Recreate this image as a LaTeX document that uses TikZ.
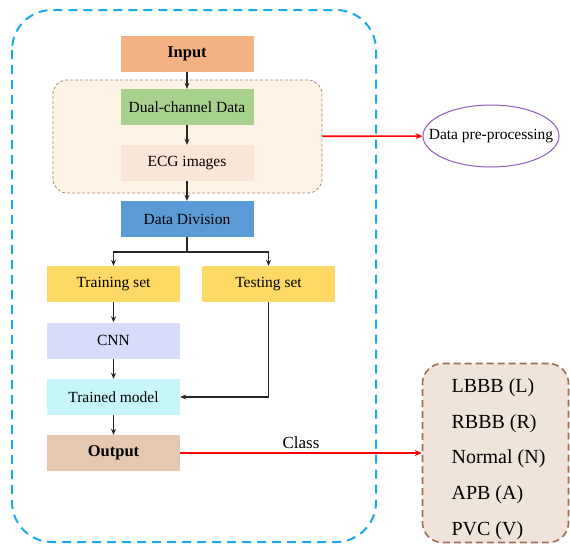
\documentclass[tikz,border=0pt]{standalone}
\usepackage{fontspec}
\setmainfont{Liberation Serif}
\usetikzlibrary{arrows.meta}
\usetikzlibrary{shapes.geometric}
\definecolor{inpcol}{HTML}{F4B183}
\definecolor{dualcol}{HTML}{A9D18E}
\definecolor{ecgcol}{HTML}{FBE5D6}
\definecolor{divcol}{HTML}{5B9BD5}
\definecolor{setcol}{HTML}{FFD966}
\definecolor{cnncol}{HTML}{D7DCFA}
\definecolor{modelcol}{HTML}{C6F6FA}
\definecolor{outcol}{HTML}{E6C8B0}
\definecolor{outer}{HTML}{1BAAE6}
\definecolor{prefill}{HTML}{FDF4E6}
\definecolor{preline}{HTML}{A8897A}
\definecolor{clsfill}{HTML}{EFE4D9}
\definecolor{clsline}{HTML}{A06E58}
\definecolor{elcol}{HTML}{8E5BB8}
\tikzset{
    blk/.style={minimum width=133pt,minimum height=36pt,inner sep=0pt,
        font=\fontsize{15.5}{18}\selectfont},
    arr/.style={-{Stealth[length=6pt,width=5pt]},line width=1.1pt,black!85},
    redarr/.style={-{Stealth[length=7pt,width=6pt]},line width=1.6pt,red}
}

\begin{document}
\begin{tikzpicture}[x=1pt,y=-1pt]
    \useasboundingbox (0,0) rectangle (570,544);
    \draw[outer,line width=2pt,dash pattern=on 9pt off 6pt,rounded corners=40pt]
    (12,10) rectangle (376,542);

    \node[draw=preline,fill=prefill,dash pattern=on 3pt off 2pt,line width=0.8pt,
        rounded corners=14pt,minimum width=269pt,minimum height=113pt] (pre) at (187.5,136.5) {};

    \node[blk,fill=inpcol,font=\fontsize{16.5}{18}\selectfont\bfseries] (inp) at (187,53.5) {Input};
    \node[blk,fill=dualcol] (dual) at (187,107) {Dual-channel Data};
    \node[blk,fill=ecgcol] (ecg) at (187,163) {ECG images};
    \node[blk,fill=divcol] (div) at (187,219) {Data Division};
    \node[blk,fill=setcol] (train) at (113.5,284) {Training set};
    \node[blk,fill=setcol] (test) at (268.5,284) {Testing set};
    \node[blk,fill=cnncol] (cnn) at (113.5,340.5) {CNN};
    \node[blk,fill=modelcol] (model) at (113.5,397) {Trained model};
    \node[blk,fill=outcol,font=\fontsize{16.5}{18}\selectfont\bfseries] (out) at (113.5,453) {Output};

    \node[ellipse,draw=elcol,line width=1pt,minimum width=136pt,minimum height=62pt,
        label={[font=\fontsize{15.5}{18}\selectfont]center:Data pre-processing}] (proc) at (491,136) {};
    \node[draw=clsline,fill=clsfill,line width=1.6pt,dash pattern=on 7pt off 4pt,
        rounded corners=20pt,minimum width=146pt,minimum height=179pt] (cls) at (495.5,453) {};
    \node[align=left,font=\fontsize{20}{35.8}\selectfont] (clstxt) at ([xshift=3pt,yshift=-6pt]cls.center)
    {LBBB (L)\\RBBB (R)\\Normal (N)\\APB (A)\\PVC (V)};

    \coordinate (split) at (187,252);
    \draw[arr] (inp) -- (dual);
    \draw[arr] (dual) -- (ecg);
    \draw[arr] (ecg) -- (div);
    \draw[line width=1.1pt,black!85] (div) -- (split);
    \draw[arr] (split) -| (train);
    \draw[arr] (split) -| (test);
    \draw[arr] (train) -- (cnn);
    \draw[arr] (cnn) -- (model);
    \draw[arr] (model) -- (out);
    \draw[arr] (test) |- (model);

    \draw[redarr] (pre) -- (proc);
    \draw[redarr] (out) -- node[above,black,font=\fontsize{17}{20}\selectfont] {Class} (cls);
\end{tikzpicture}
\end{document}
